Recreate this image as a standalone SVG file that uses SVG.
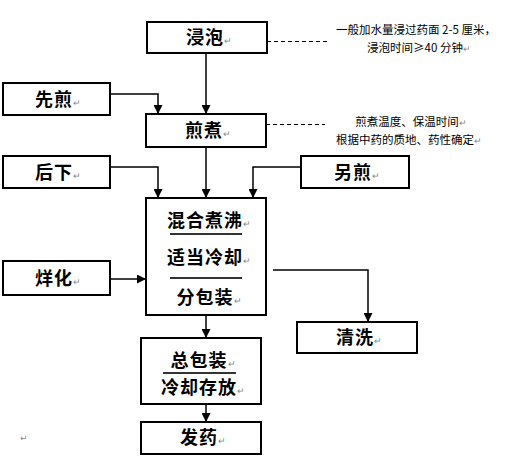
<svg xmlns="http://www.w3.org/2000/svg" width="525" height="474" viewBox="0 0 525 474">
<defs>
<marker id="ah" viewBox="0 0 10 10" refX="10" refY="5" markerWidth="9" markerHeight="9" markerUnits="userSpaceOnUse" orient="auto">
<path d="M0,0 L10,5 L0,10 Z" fill="#000"/>
</marker>
<style>
.box{fill:#fff;stroke:#000;stroke-width:2}
.lbl{font-family:"Noto Sans CJK SC","Noto Sans CJK TC",sans-serif;font-size:18px;font-weight:bold;letter-spacing:1px;fill:#000;text-anchor:middle}
.note{font-family:"Noto Sans CJK SC","Noto Sans CJK TC",sans-serif;font-size:11.5px;fill:#000;text-anchor:middle}
.pm{font-size:9px;fill:#888;font-weight:normal;letter-spacing:0}
.con{fill:none;stroke:#000;stroke-width:1.5}
.arr{fill:none;stroke:#000;stroke-width:1.5;marker-end:url(#ah)}
.dash{fill:none;stroke:#000;stroke-width:1;stroke-dasharray:4,3}
.sep{stroke:#333;stroke-width:2}
</style>
</defs>
<rect width="525" height="474" fill="#fff"/>

<g id="connectors">
<line class="arr" x1="206" y1="53" x2="206" y2="114"/>
<polyline class="arr" points="110,94 158,94 158,114"/>
<line class="arr" x1="206" y1="147" x2="206" y2="198"/>
<polyline class="arr" points="110,167 158,167 158,198"/>
<polyline class="arr" points="301,167 253,167 253,198"/>
<line class="arr" x1="110" y1="279" x2="146" y2="279"/>
<polyline class="arr" points="273,270 368,270 368,322"/>
<line class="arr" x1="206" y1="315" x2="206" y2="338"/>
<line class="arr" x1="206" y1="404" x2="206" y2="422"/>
<line class="dash" x1="267" y1="41.5" x2="327" y2="41.5"/>
<line class="dash" x1="266" y1="124.5" x2="325" y2="124.5"/>
</g>

<g id="n-jinpao">
<rect class="box" x="147" y="22" width="120" height="31"/>
<text class="lbl" x="209" y="44">浸泡<tspan class="pm">↵</tspan></text>
</g>
<g id="note1">
<text class="note" x="416" y="34">一般加水量浸过药面 2-5 厘米，</text>
<text class="note" x="419" y="52">浸泡时间≥40 分钟<tspan class="pm">↵</tspan></text>
</g>

<g id="n-xianjian">
<rect class="box" x="3" y="83" width="107" height="32"/>
<text class="lbl" x="58" y="106">先煎<tspan class="pm">↵</tspan></text>
</g>

<g id="n-jianzhu">
<rect class="box" x="146" y="114" width="120" height="33"/>
<text class="lbl" x="208" y="137">煎煮<tspan class="pm">↵</tspan></text>
</g>
<g id="note2">
<text class="note" x="411" y="126">煎煮温度、保温时间<tspan class="pm">↵</tspan></text>
<text class="note" x="409" y="144">根据中药的质地、药性确定<tspan class="pm">↵</tspan></text>
</g>

<g id="n-houxia">
<rect class="box" x="3" y="156" width="107" height="32"/>
<text class="lbl" x="58" y="179">后下<tspan class="pm">↵</tspan></text>
</g>

<g id="n-lingjian">
<rect class="box" x="301" y="156" width="108" height="32"/>
<text class="lbl" x="357" y="179">另煎<tspan class="pm">↵</tspan></text>
</g>

<g id="n-mix">
<rect class="box" x="146" y="198" width="120" height="117"/>
<text class="lbl" x="209" y="227">混合煮沸<tspan class="pm">↵</tspan></text>
<line class="sep" x1="170" y1="234" x2="242" y2="234"/>
<text class="lbl" x="209" y="264">适当冷却<tspan class="pm">↵</tspan></text>
<line class="sep" x1="170" y1="278" x2="242" y2="278"/>
<text class="lbl" x="209" y="304">分包装<tspan class="pm">↵</tspan></text>
</g>

<g id="n-yanghua">
<rect class="box" x="3" y="261" width="107" height="34"/>
<text class="lbl" x="58" y="285">烊化<tspan class="pm">↵</tspan></text>
</g>

<g id="n-qingxi">
<rect class="box" x="297" y="322" width="120" height="31"/>
<text class="lbl" x="359" y="344">清洗<tspan class="pm">↵</tspan></text>
</g>

<g id="n-zongbaozhuang">
<rect class="box" x="141" y="338" width="120" height="66"/>
<text class="lbl" x="203" y="367">总包装<tspan class="pm">↵</tspan></text>
<line class="sep" x1="163" y1="373" x2="236" y2="373"/>
<text class="lbl" x="203" y="394">冷却存放<tspan class="pm">↵</tspan></text>
</g>

<g id="n-fayao">
<rect class="box" x="141" y="422" width="120" height="32"/>
<text class="lbl" x="203" y="444">发药<tspan class="pm">↵</tspan></text>
</g>

<text x="20" y="441" style="font-family:'DejaVu Sans',sans-serif;font-size:9px;fill:#888">↵</text>
</svg>
